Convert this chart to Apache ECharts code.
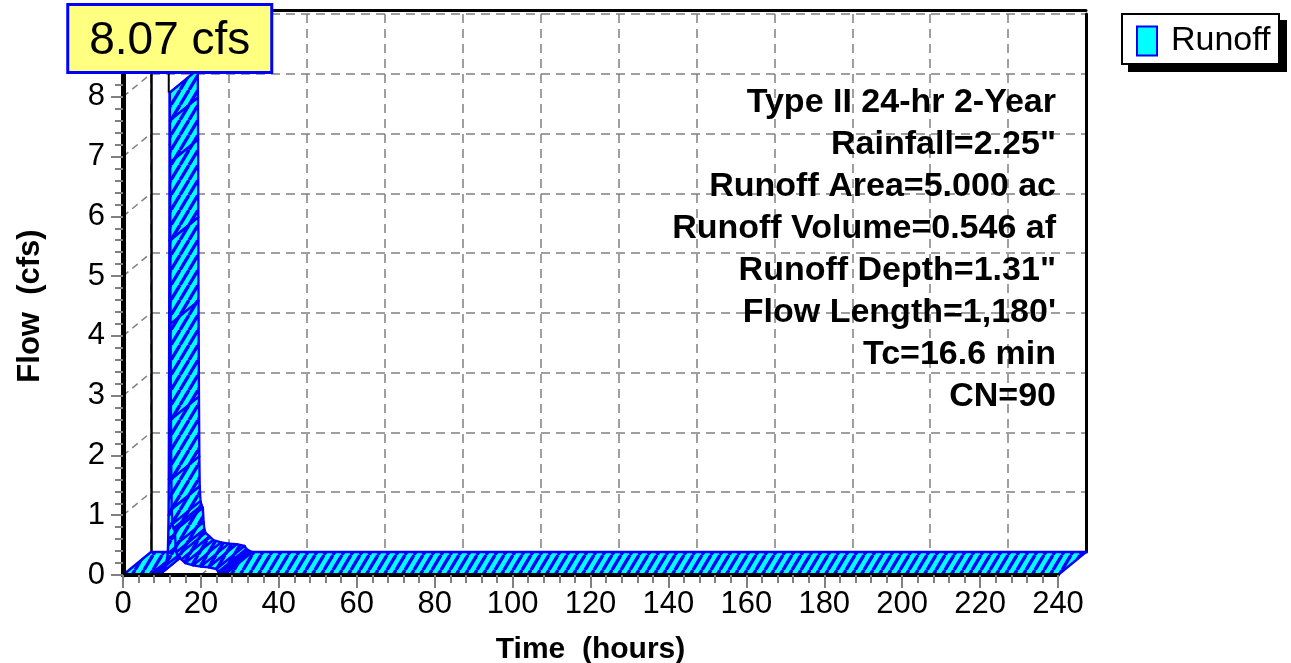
<!DOCTYPE html>
<html>
<head>
<meta charset="utf-8">
<script src="https://cdn.jsdelivr.net/npm/echarts@6/dist/echarts.min.js"></script>
<style>html,body{margin:0;padding:0;background:#fff;}#chart{width:1291px;height:663px;}</style>
</head>
<body>
<div id="chart"></div>
<script>
// ---- data ----
const TIME = [0, 7, 8, 9, 10, 10.5, 11, 11.5, 11.6, 11.7, 11.75, 11.8, 11.85, 11.9, 11.95, 12.0, 12.05, 12.1, 12.15, 12.2, 12.3, 12.4, 12.5, 12.7, 13.0, 13.3, 13.5, 13.7, 14.0, 15.0, 16.0, 18.0, 20.0, 22.0, 24.0, 24.5, 25.0, 25.5, 26.0, 240];
const FLOW = [0, 0, 0.01, 0.02, 0.04, 0.07, 0.16, 0.36, 0.6, 1.0, 1.6, 2.6, 3.9, 5.6, 7.2, 8.07, 7.6, 6.9, 5.6, 4.2, 2.6, 1.6, 1.1, 0.85, 0.78, 0.74, 0.5, 0.38, 0.32, 0.26, 0.2, 0.16, 0.14, 0.13, 0.1, 0.05, 0.03, 0.01, 0, 0];
const SERIES_NAME = 'Runoff';
const Y_WALL_TICKS = [1, 2, 3, 4, 5, 6, 7, 8, 9];
const X_FLOOR_TICKS = [20, 40, 60, 80, 100, 120, 140, 160, 180, 200, 220];
const INFO_LINES = ['Type II 24-hr 2-Year', 'Rainfall=2.25"', 'Runoff Area=5.000 ac', 'Runoff Volume=0.546 af', 'Runoff Depth=1.31"', "Flow Length=1,180'", 'Tc=16.6 min', 'CN=90'];
const X_NAME = 'Time  (hours)';
const Y_NAME = 'Flow  (cfs)';

// ---- style ----
const FONT = '"Liberation Sans", Arial, sans-serif';
const DX = 28, DY = -23;          // 3D depth offset
const FRONT = {left: 123, right: 233, top: 37, bottom: 88};
const BACK = {left: FRONT.left + DX, right: FRONT.right - DX, top: FRONT.top + DY, bottom: FRONT.bottom - DY};

// hatch pattern
const tile = document.createElement('canvas');
const TW = 9, TH = 15;
tile.width = TW; tile.height = TH;
const tc = tile.getContext('2d');
tc.fillStyle = '#00FFFF'; tc.fillRect(0, 0, TW, TH);
tc.strokeStyle = '#0000FF'; tc.lineWidth = 3.4;
for (let k = -1; k <= 1; k++) { tc.beginPath(); tc.moveTo(k * TW, TH); tc.lineTo(k * TW + TW, 0); tc.stroke(); }
const PATTERN = {image: tile, repeat: 'repeat'};

const segs = [];
for (let i = 0; i < TIME.length - 1; i++) segs.push([TIME[i], FLOW[i], TIME[i + 1], FLOW[i + 1]]);
let pk = 0; FLOW.forEach((v, i) => { if (v > FLOW[pk]) pk = i; });

const chart = echarts.init(document.getElementById('chart'));
const gray = '#808080';
const dashed = {color: gray, width: 1.5, type: [9, 6]};

chart.setOption({
  animation: false,
  textStyle: {fontFamily: FONT},
  grid: [
    {left: FRONT.left, right: FRONT.right, top: FRONT.top, bottom: FRONT.bottom, containLabel: false, outerBoundsMode: 'none'},
    {left: BACK.left, right: BACK.right, top: BACK.top, bottom: BACK.bottom, containLabel: false, outerBoundsMode: 'none'}
  ],
  legend: {
    left: 1121, top: 13, padding: [11, 10, 11, 15], z: 10,
    backgroundColor: 'transparent', borderWidth: 0,
    itemWidth: 20, itemHeight: 29,
    textStyle: {fontSize: 34, color: '#000', fontFamily: FONT, padding: [0, 0, 0, 9]},
    data: [{name: SERIES_NAME, icon: 'rect', itemStyle: {color: '#00FFFF', borderColor: '#0000FF', borderWidth: 2}}]
  },
  xAxis: [
    {type: 'value', gridIndex: 0, min: 0, max: 240, interval: 20, z: 3,
     name: X_NAME, nameLocation: 'middle', nameGap: 60,
     nameTextStyle: {fontSize: 30, fontWeight: 'bold', color: '#000', fontFamily: FONT},
     axisLine: {show: true, onZero: false, lineStyle: {color: '#000', width: 4}},
     axisTick: {show: true, length: 13, lineStyle: {color: gray, width: 2}},
     minorTick: {show: true, splitNumber: 5, length: 8, lineStyle: {color: gray, width: 2}},
     axisLabel: {fontSize: 31, color: '#000', margin: 14, fontFamily: FONT},
     splitLine: {show: false}},
    {type: 'value', gridIndex: 1, min: 0, max: 240, interval: 20, position: 'top', offset: 4,
     axisLine: {show: true, onZero: false, lineStyle: {color: '#000', width: 3}},
     axisTick: {show: false}, axisLabel: {show: false},
     splitLine: {show: true, lineStyle: dashed}}
  ],
  yAxis: [
    {type: 'value', gridIndex: 0, min: 0, max: 9, interval: 1, z: 3,
     name: Y_NAME, nameLocation: 'middle', nameGap: 77, nameRotate: 90,
     nameTextStyle: {fontSize: 31, fontWeight: 'bold', color: '#000', fontFamily: FONT},
     axisLine: {show: true, onZero: false, lineStyle: {color: '#000', width: 5}},
     axisTick: {show: true, length: 12, lineStyle: {color: gray, width: 2}},
     minorTick: {show: true, splitNumber: 5, length: 8, lineStyle: {color: gray, width: 2}},
     axisLabel: {fontSize: 31, color: '#000', margin: 18, fontFamily: FONT},
     splitLine: {show: false}},
    {type: 'value', gridIndex: 1, min: 0, max: 9, interval: 1, position: 'right',
     axisLine: {show: true, onZero: false, lineStyle: {color: '#000', width: 3}},
     axisTick: {show: false}, axisLabel: {show: false},
     splitLine: {show: true, lineStyle: dashed}},
    {type: 'value', gridIndex: 1, min: 0, max: 9, interval: 1, position: 'left',
     axisLine: {show: true, onZero: false, lineStyle: {color: '#000', width: 2.5}},
     axisTick: {show: false}, axisLabel: {show: false}, splitLine: {show: false}}
  ],
  graphic: [
    {type: 'rect', left: 1128, top: 20, z: 8, silent: true, shape: {width: 159, height: 52}, style: {fill: '#000'}},
    {type: 'rect', left: 1121, top: 13, z: 9, silent: true, shape: {width: 157, height: 50}, style: {fill: '#fff', stroke: '#000', lineWidth: 2}},
    {type: 'text', x: 1056, y: 82, z: 10,
     style: {text: INFO_LINES.join('\n'), font: 'bold 34px ' + FONT, fill: '#000', align: 'right', verticalAlign: 'top', lineHeight: 42}}
  ],
  series: [
    { // left wall diagonals
      type: 'custom', name: 'wallY', xAxisIndex: 0, yAxisIndex: 0, silent: true, z: 1,
      data: Y_WALL_TICKS.map(v => [0, v]),
      renderItem: function (params, api) {
        const p = api.coord([api.value(0), api.value(1)]);
        const last = params.dataIndex === Y_WALL_TICKS.length - 1;
        return {type: 'line', shape: {x1: p[0], y1: p[1], x2: p[0] + DX * (last ? 1.15 : 1), y2: p[1] + DY * (last ? 1.15 : 1)},
          style: last ? {stroke: '#000', lineWidth: 2} : {stroke: gray, lineWidth: 1.5, lineDash: [7, 5]}};
      }
    },
    { // floor diagonals
      type: 'custom', name: 'wallX', xAxisIndex: 0, yAxisIndex: 0, silent: true, z: 1,
      data: X_FLOOR_TICKS.map(v => [v, 0]),
      renderItem: function (params, api) {
        const p = api.coord([api.value(0), api.value(1)]);
        return {type: 'line', shape: {x1: p[0], y1: p[1], x2: p[0] + DX, y2: p[1] + DY},
          style: {stroke: gray, lineWidth: 1.5, lineDash: [7, 5]}};
      }
    },
    { // ribbon hydrograph
      type: 'custom', name: SERIES_NAME, xAxisIndex: 0, yAxisIndex: 0, z: 2,
      itemStyle: {color: '#00FFFF'},
      encode: {x: [0, 2], y: [1, 3]},
      data: segs,
      renderItem: function (params, api) {
        const a = api.coord([api.value(0), api.value(1)]);
        const b = api.coord([api.value(2), api.value(3)]);
        return {type: 'polygon', z2: params.dataIndex,
          shape: {points: [a, b, [b[0] + DX, b[1] + DY], [a[0] + DX, a[1] + DY]]},
          style: {fill: PATTERN, stroke: '#0000FF', lineWidth: 2.4, lineJoin: 'round'}};
      }
    },
    { // peak label
      type: 'custom', name: 'peak', xAxisIndex: 0, yAxisIndex: 0, z: 5, silent: true,
      data: [[TIME[pk], FLOW[pk]]],
      renderItem: function (params, api) {
        const p = api.coord([api.value(0), api.value(1)]);
        const bw = 204, bh = 68, gap = 20;
        return {type: 'group', children: [
          {type: 'line', shape: {x1: p[0] - 1, y1: p[1], x2: p[0] - 1, y2: p[1] - gap}, style: {stroke: '#000', lineWidth: 2}},
          {type: 'rect', shape: {x: p[0] - bw / 2, y: p[1] - gap - bh, width: bw, height: bh},
           style: {fill: '#FFFF80', stroke: '#0000FF', lineWidth: 3}},
          {type: 'text', x: p[0], y: p[1] - gap - bh / 2 + 3,
           style: {text: api.value(1).toFixed(2) + ' cfs', font: '46px ' + FONT, fill: '#000', align: 'center', verticalAlign: 'middle'}}
        ]};
      }
    }
  ]
});
</script>
</body>
</html>
